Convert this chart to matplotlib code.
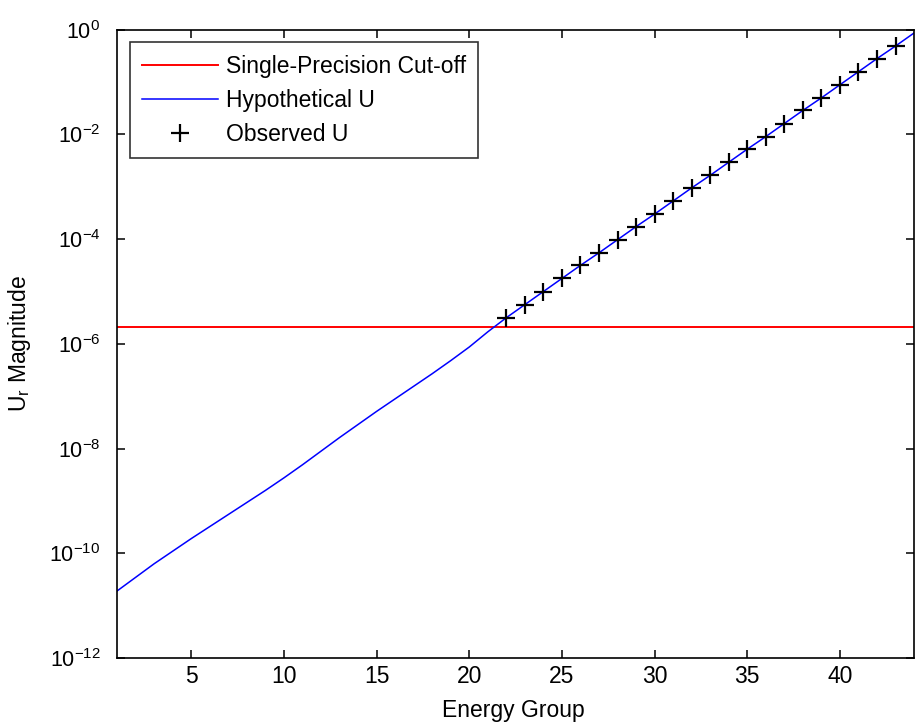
import matplotlib
matplotlib.use("Agg")
import matplotlib.pyplot as plt
from matplotlib.ticker import LogLocator, NullLocator
import numpy as np

plt.rcParams['font.family'] = ['Liberation Sans', 'DejaVu Sans']
plt.rcParams['mathtext.default'] = 'regular'

# energy groups and log10 of U magnitude
groups = np.arange(1, 45)
hyp_log = [-10.72, -10.46, -10.20, -9.96, -9.72, -9.49, -9.26, -9.03, -8.80, -8.56,
           -8.31, -8.05, -7.79, -7.54, -7.29, -7.05, -6.81, -6.57, -6.32, -6.06,
           -5.77, -5.50, -5.25, -5.00, -4.75, -4.50, -4.26, -4.01, -3.76, -3.52,
           -3.27, -3.02, -2.78, -2.53, -2.28, -2.04, -1.79, -1.54, -1.30, -1.05,
           -0.80, -0.55, -0.31, -0.06]
obs_groups = np.arange(22, 44)
obs_log = [-5.50, -5.25, -5.00, -4.75, -4.50, -4.26, -4.01, -3.76, -3.52, -3.27,
           -3.02, -2.78, -2.53, -2.28, -2.04, -1.79, -1.54, -1.30, -1.05, -0.80,
           -0.55, -0.31]
cutoff = 2.1e-6

hyp = 10.0 ** np.array(hyp_log)
obs = 10.0 ** np.array(obs_log)

fs = 16.5

fig = plt.figure(figsize=(9.15, 7.27), dpi=100)
ax = fig.add_axes([0.128, 0.095, 0.871, 0.864])

ax.axhline(cutoff, color='#ff0000', linewidth=1.4, label='Single-Precision Cut-off')
ax.plot(groups, hyp, color='#0000ff', linewidth=1.1, label='Hypothetical U')
ax.plot(obs_groups, obs, linestyle='none', marker='+', color='black',
        markersize=13, markeredgewidth=1.6, label='Observed U')

ax.set_yscale('log')
ax.set_xlim(1, 44)
ax.set_ylim(1e-12, 1e0)
ax.set_xticks([5, 10, 15, 20, 25, 30, 35, 40])
ax.yaxis.set_major_locator(LogLocator(base=100.0))
ax.yaxis.set_minor_locator(NullLocator())

ax.tick_params(direction='in', length=6, width=1.1, labelsize=fs,
               top=True, right=True)
ax.tick_params(axis='x', pad=5)
ax.tick_params(axis='y', pad=12, labelsize=15.5)
for s in ax.spines.values():
    s.set_linewidth(1.2)

ax.set_xlabel('Energy Group', fontsize=fs)
ax.xaxis.set_label_coords(0.497, -0.066)
ax.set_ylabel('$U_r$ Magnitude', fontsize=fs, va='center')
ax.yaxis.set_label_coords(-0.122, 0.5)

leg = ax.legend(loc='upper left', fontsize=fs, frameon=True, fancybox=False,
                edgecolor='black', handlelength=3.3, handletextpad=0.33,
                labelspacing=0.47, borderpad=0.55, borderaxespad=0.55)
leg.get_frame().set_linewidth(1.2)

fig.savefig('out.png', dpi=100, facecolor='white')
